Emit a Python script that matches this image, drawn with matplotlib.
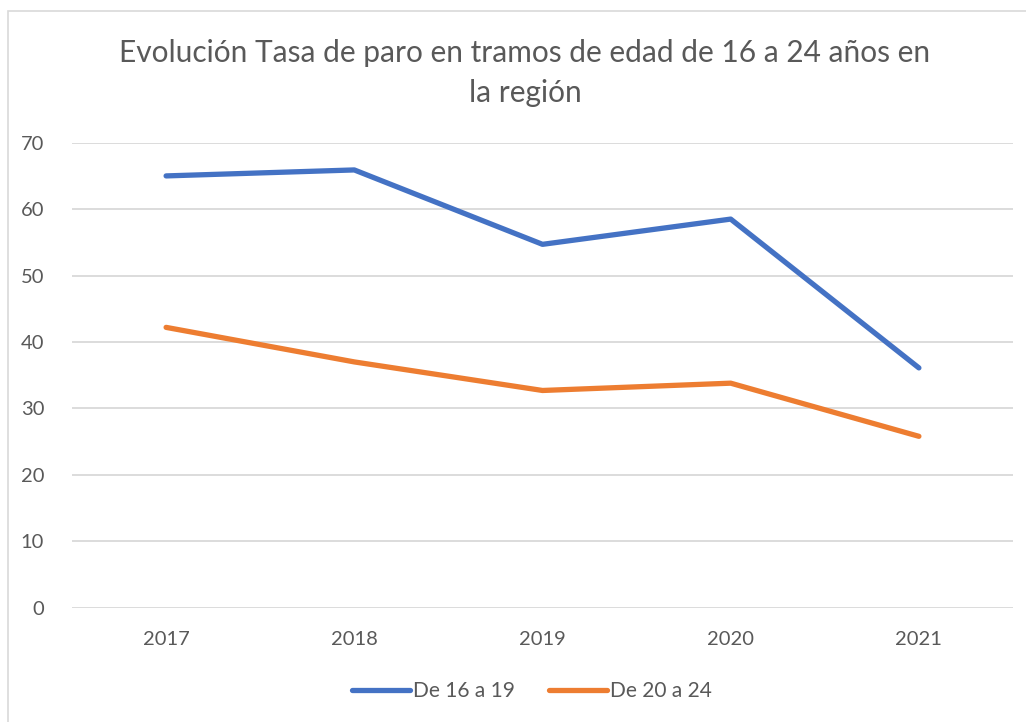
import matplotlib.pyplot as plt
from matplotlib.patches import Rectangle

plt.rcParams['font.family'] = ['Lato', 'DejaVu Sans']

years = ['2017', '2018', '2019', '2020', '2021']
de_16_a_19 = [65.0, 65.9, 54.7, 58.5, 36.1]
de_20_a_24 = [42.2, 37.0, 32.7, 33.8, 25.8]

gris = '#595959'

fig = plt.figure(figsize=(10.26, 7.22), dpi=100)
fig.patches.append(Rectangle((8 / 1026, -0.01), 1.1, 1 - 11 / 722 + 0.01,
                             transform=fig.transFigure, fill=False,
                             edgecolor='#d9d9d9', linewidth=1.2))

ax = fig.add_axes([72 / 1026, 1 - 607.7 / 722, (1013 - 72) / 1026, (607.7 - 142.7) / 722])
x = range(len(years))
ax.plot(x, de_16_a_19, color='#4472c4', lw=3.8, solid_capstyle='round',
        solid_joinstyle='round', label='De 16 a 19')
ax.plot(x, de_20_a_24, color='#ed7d31', lw=3.8, solid_capstyle='round',
        solid_joinstyle='round', label='De 20 a 24')

ax.set_xlim(-0.5, 4.5)
ax.set_ylim(0, 70)
ax.set_yticks(range(0, 71, 10))
ax.set_xticks(list(x))
ax.set_xticklabels(years)
ax.grid(axis='y', color='#d9d9d9', lw=1.3)
ax.set_axisbelow(True)
for s in ax.spines.values():
    s.set_visible(False)
ax.tick_params(length=0, labelsize=14.5, labelcolor=gris)
ax.tick_params(axis='y', pad=20)
ax.tick_params(axis='x', pad=17)

fig.text(525 / 1026, 1 - 73 / 722, 'Evolución Tasa de paro en tramos de edad de 16 a 24 años en\nla región',
         ha='center', va='center', fontsize=21.5, color=gris, linespacing=1.5)

fig.legend(loc='center', bbox_to_anchor=(532 / 1026, 1 - 691 / 722), ncol=2,
           frameon=False, fontsize=15, labelcolor=gris, handlelength=2.8,
           handletextpad=0.15, columnspacing=1.6)

fig.savefig('out.png', dpi=100)
